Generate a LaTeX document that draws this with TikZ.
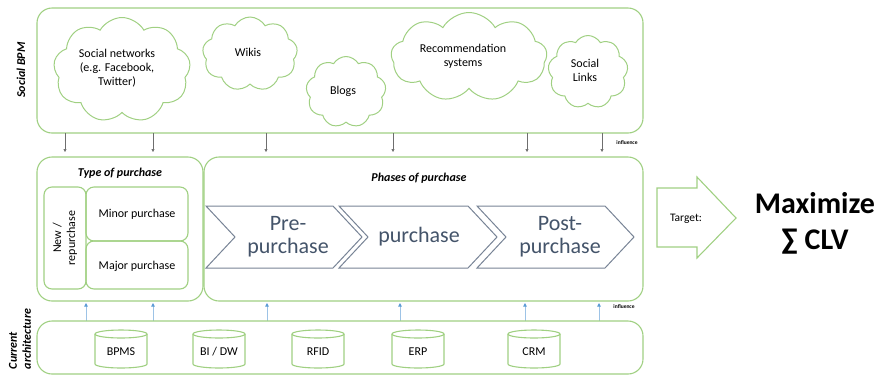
\documentclass[tikz,border=0pt]{standalone}
\usepackage{fontspec}
\setmainfont{Carlito}
\usetikzlibrary{shapes.symbols,arrows.meta}
\definecolor{gr}{RGB}{160,208,130}
\definecolor{chev}{RGB}{120,132,150}
\definecolor{chevtxt}{RGB}{68,84,106}
\definecolor{upblue}{RGB}{91,155,213}
\definecolor{dngray}{RGB}{110,110,110}
\newcommand\dbcyl[3]{%
  \draw[gline] (#2-26,334) -- (#2-26,364) arc[start angle=180,end angle=360,x radius=26pt,y radius=4pt] -- (#2+26,334);
  \draw[gline] (#2,334) ellipse[x radius=26pt,y radius=4pt];
  \node[txt] (#1) at (#2,352) {#3};}
\begin{document}
\begin{tikzpicture}[x=1pt,y=-1pt,
  gline/.style={draw=gr,line width=1.1pt},
  bigbox/.style={gline,rounded corners=15pt},
  smallbox/.style={gline,rounded corners=8pt},
  txt/.style={font=\fontsize{12}{14}\selectfont,align=center,inner sep=0pt},
  ttl/.style={font=\fontsize{12}{14}\selectfont\bfseries\itshape,align=center,inner sep=0pt},
  cloudy/.style={cloud,cloud puffs=9,cloud puff arc=120,cloud ignores aspect,draw=gr,line width=1pt,inner sep=0pt},
  chevbox/.style={draw=chev,line width=1pt,fill=white},
  chevlab/.style={font=\fontsize{22}{23}\selectfont,text=chevtxt,align=center,inner sep=0pt},
  dn/.style={draw=dngray,line width=0.5pt,-{Triangle[length=3pt,width=3pt]}},
  up/.style={draw=upblue!60,line width=0.8pt,-{Triangle[length=3.5pt,width=3.5pt,fill=upblue,color=upblue]}},
  infl/.style={font=\fontsize{5.5}{6}\selectfont\bfseries,inner sep=0pt}
]
\useasboundingbox (0,0) rectangle (883,376);
% Social BPM
\draw[bigbox] (37,8) rectangle (643,133);
\node[ttl,rotate=90] (socbpm) at (21,70) {Social BPM};
\node[cloudy,minimum width=137pt,minimum height=105pt] (c1) at (122,70) {};
\node[txt] (t1) at (117,68) {Social networks\\(e.g. Facebook,\\Twitter)};
\node[cloudy,minimum width=95pt,minimum height=74pt] (c2) at (250,54) {};
\node[txt] (t2) at (248,52) {Wikis};
\node[cloudy,minimum width=80pt,minimum height=71pt] (c3) at (346,92) {};
\node[txt] (t3) at (343,91) {Blogs};
\node[cloudy,minimum width=156pt,minimum height=89pt] (c4) at (469,57) {};
\node[txt] (t4) at (463,56) {Recommendation\\systems};
\node[cloudy,minimum width=80pt,minimum height=73pt] (c5) at (588,72) {};
\node[txt] (t5) at (585,70) {Social\\Links};
% down arrows
\foreach \xx in {65,153,266,393,527,602}{
  \draw[dn] (\xx,133) -- (\xx,152);}
\node[infl] (inf1) at (627,143) {influence};
% middle
\draw[bigbox] (37,157) rectangle (203,301);
\draw[bigbox] (204,157) rectangle (643,301);
\node[ttl] (top) at (120,173) {Type of purchase};
\node[ttl] (pop) at (419,178) {Phases of purchase};
\draw[smallbox] (44,187) rectangle (86,289);
\draw[smallbox] (86,187) rectangle (188,241);
\draw[smallbox] (86,241) rectangle (188,289);
\node[txt,rotate=90] (newrep) at (65,238) {New /\\repurchase};
\node[txt] (minor) at (137,214) {Minor purchase};
\node[txt] (major) at (137,266) {Major purchase};
% chevrons
\draw[chevbox] (206,206) -- (333,206) -- (362,237) -- (333,268) -- (206,268) -- (235,237) -- cycle;
\draw[chevbox] (339,206) -- (468,206) -- (497,237) -- (468,268) -- (339,268) -- (368,237) -- cycle;
\draw[chevbox] (477,206) -- (605,206) -- (634,237) -- (605,268) -- (477,268) -- (506,237) -- cycle;
\node[chevlab] (pre) at (288,237) {Pre-\\purchase};
\node[chevlab] (pur) at (419,237) {purchase};
\node[chevlab] (post) at (560,237) {Post-\\purchase};
% target arrow
\draw[gline] (657,188) -- (697,188) -- (697,177) -- (736,218) -- (697,258) -- (697,247) -- (657,247) -- cycle;
\node[txt,font=\fontsize{11.5}{13}\selectfont] (tgt) at (686,219) {Target:};
\node[font=\fontsize{30}{36}\selectfont\bfseries,align=center,inner sep=0pt] (maxi) at (815,223) {Maximize\\∑ CLV};
% up arrows
\foreach \xx in {86,153,267,400,525,599}{
  \draw[up] (\xx,321) -- (\xx,303);}
\node[infl] (inf2) at (624,307) {influence};
% bottom
\draw[bigbox] (37,321) rectangle (643,374);
\node[ttl,rotate=90,align=left] (cur) at (20,339) {Current\\architecture};
\dbcyl{bpms}{121}{BPMS}
\dbcyl{bidw}{219}{BI / DW}
\dbcyl{rfid}{318}{RFID}
\dbcyl{erp}{418}{ERP}
\dbcyl{crm}{534}{CRM}
\end{tikzpicture}
\end{document}
